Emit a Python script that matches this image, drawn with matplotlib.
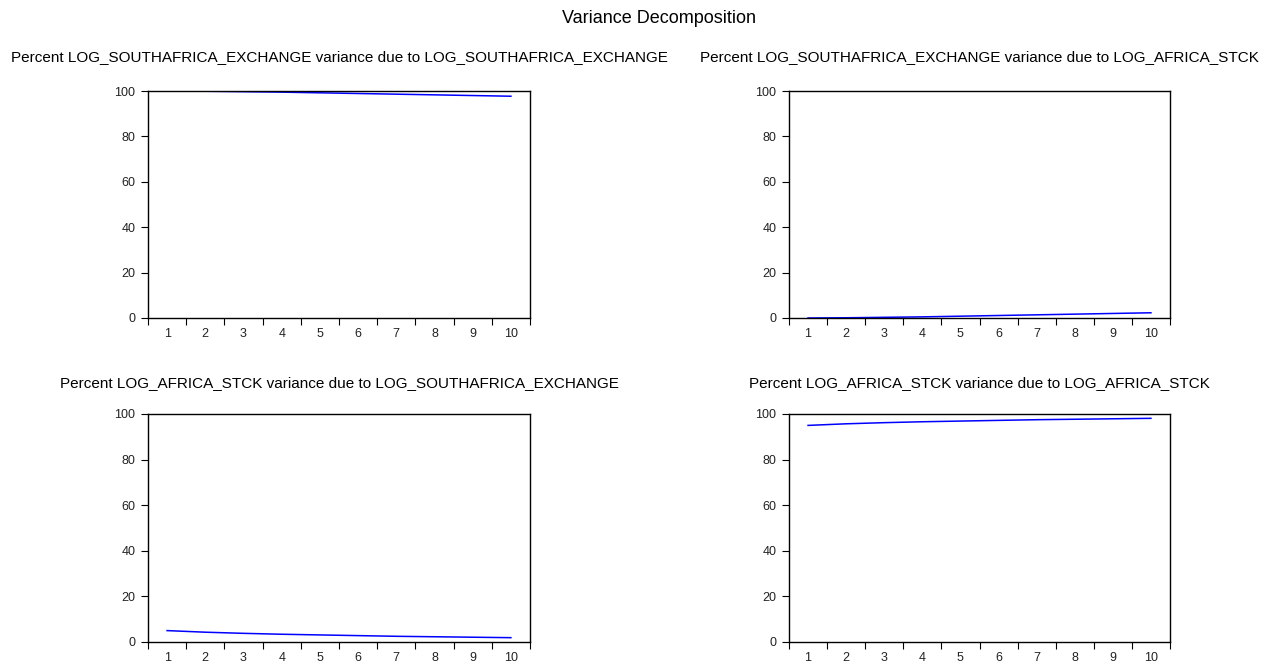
import matplotlib
matplotlib.use("Agg")
import matplotlib.pyplot as plt

plt.rcParams['font.family'] = ['Liberation Sans', 'DejaVu Sans']

periods = [1, 2, 3, 4, 5, 6, 7, 8, 9, 10]

# percent of variance explained
exch_due_exch = [100.0, 99.9, 99.7, 99.5, 99.2, 98.9, 98.6, 98.3, 98.0, 97.7]
exch_due_stck = [0.0, 0.1, 0.3, 0.5, 0.8, 1.1, 1.4, 1.7, 2.0, 2.3]
stck_due_exch = [5.0, 4.3, 3.8, 3.4, 3.1, 2.8, 2.5, 2.3, 2.1, 1.9]
stck_due_stck = [95.0, 95.7, 96.2, 96.6, 96.9, 97.2, 97.5, 97.7, 97.9, 98.1]

titles = [
    "Percent LOG_SOUTHAFRICA_EXCHANGE variance due to LOG_SOUTHAFRICA_EXCHANGE",
    "Percent LOG_SOUTHAFRICA_EXCHANGE variance due to LOG_AFRICA_STCK",
    "Percent LOG_AFRICA_STCK variance due to LOG_SOUTHAFRICA_EXCHANGE",
    "Percent LOG_AFRICA_STCK variance due to LOG_AFRICA_STCK",
]
series = [exch_due_exch, exch_due_stck, stck_due_exch, stck_due_stck]

W, H = 1282, 666
fig = plt.figure(figsize=(W / 100, H / 100), dpi=100)

# axes boxes in pixels: left, top, right, bottom
boxes = [(148, 91, 530, 318), (789, 91, 1170, 318),
         (148, 414, 530, 642), (789, 414, 1170, 642)]
title_base = [61, 61, 387, 387]

for box, ys, title, tb in zip(boxes, series, titles, title_base):
    l, t, r, b = box
    ax = fig.add_axes([l / W, (H - b) / H, (r - l) / W, (b - t) / H])
    ax.plot(periods, ys, color=(0, 0, 1), lw=1.1)
    ax.set_xlim(0.5, 10.5)
    ax.set_ylim(0, 100)
    ax.set_yticks([0, 20, 40, 60, 80, 100])
    ax.set_xticks([p - 0.5 for p in periods] + [10.5])
    ax.set_xticklabels([])
    ax.set_xticks(periods, minor=True)
    ax.set_xticklabels([str(p) for p in periods], minor=True)
    ax.tick_params(axis='x', which='major', direction='out', length=5, width=0.8)
    ax.tick_params(axis='x', which='minor', length=0, pad=7, labelsize=9,
                   labelcolor='#222222')
    ax.tick_params(axis='y', direction='out', length=5, width=0.8, pad=4,
                   labelsize=9, labelcolor='#222222')
    for s in ax.spines.values():
        s.set_linewidth(1.0)
    fig.text((l + r) / 2 / W, (H - tb) / H, title, ha='center', va='baseline',
             fontsize=11)

fig.text(659 / W, (H - 23) / H, "Variance Decomposition", ha='center',
         va='baseline', fontsize=13)

fig.savefig("out.png", dpi=100)
